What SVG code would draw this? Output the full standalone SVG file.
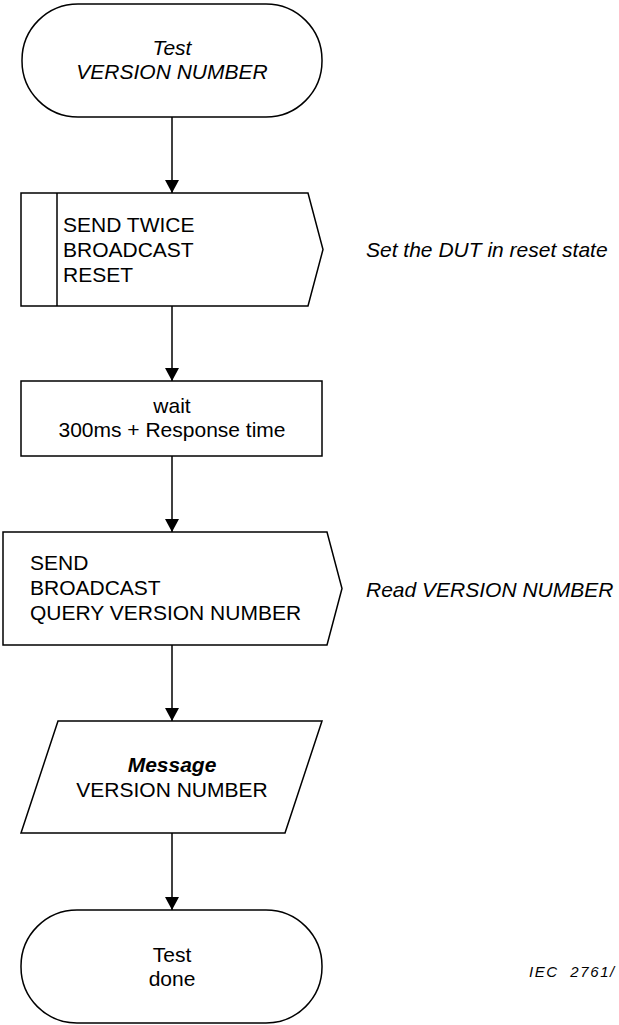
<svg xmlns="http://www.w3.org/2000/svg" width="619" height="1025" viewBox="0 0 619 1025">
<style>
.shape{fill:#fff;stroke:#000;stroke-width:1.5}
.t{font-family:"Liberation Sans",Arial,sans-serif;font-size:21px;fill:#000}
.c{text-anchor:middle}
.i{font-style:italic}
.b{font-weight:bold}
.conn{stroke:#000;stroke-width:1.5;fill:none}
</style>
<defs>
<marker id="arrow" viewBox="0 0 14 15" refX="14" refY="7.5" markerWidth="15" markerHeight="14" markerUnits="userSpaceOnUse" orient="auto">
<path d="M0,0 L14,7.5 L0,15 z" fill="#000"/>
</marker>
</defs>
<rect width="619" height="1025" fill="#fff"/>
<g id="connectors">
<line class="conn" x1="172" y1="117" x2="172" y2="193" marker-end="url(#arrow)"/>
<line class="conn" x1="172" y1="306" x2="172" y2="381" marker-end="url(#arrow)"/>
<line class="conn" x1="172" y1="456" x2="172" y2="532" marker-end="url(#arrow)"/>
<line class="conn" x1="172" y1="645" x2="172" y2="721" marker-end="url(#arrow)"/>
<line class="conn" x1="172" y1="833" x2="172" y2="910" marker-end="url(#arrow)"/>
</g>
<g id="start">
<rect class="shape" x="22" y="4" width="300" height="113" rx="56" ry="56"/>
<text class="t c i" x="172" y="55">Test</text>
<text class="t c i" x="172" y="79">VERSION NUMBER</text>
</g>
<g id="send-reset">
<path class="shape" d="M21,193 L308,193 L323,249.5 L308,306 L21,306 Z"/>
<line class="conn" x1="57" y1="193" x2="57" y2="306"/>
<text class="t" x="63" y="232">SEND TWICE</text>
<text class="t" x="63" y="257">BROADCAST</text>
<text class="t" x="63" y="282">RESET</text>
</g>
<g id="note-reset">
<text class="t i" x="366" y="257">Set the DUT in reset state</text>
</g>
<g id="wait">
<rect class="shape" x="21" y="381" width="301" height="75"/>
<text class="t c" x="172" y="413">wait</text>
<text class="t c" x="172" y="437">300ms + Response time</text>
</g>
<g id="send-query">
<path class="shape" d="M3,532 L327,532 L342,588.5 L327,645 L3,645 Z"/>
<text class="t" x="30" y="570">SEND</text>
<text class="t" x="30" y="595">BROADCAST</text>
<text class="t" x="30" y="620">QUERY VERSION NUMBER</text>
</g>
<g id="note-read">
<text class="t i" x="366" y="597">Read VERSION NUMBER</text>
</g>
<g id="message">
<path class="shape" d="M58,721 L322,721 L285,833 L21,833 Z"/>
<text class="t c i b" x="172" y="772">Message</text>
<text class="t c" x="172" y="797">VERSION NUMBER</text>
</g>
<g id="end">
<rect class="shape" x="21" y="910" width="301" height="113" rx="56" ry="56"/>
<text class="t c" x="172" y="962">Test</text>
<text class="t c" x="172" y="986">done</text>
</g>
<g id="caption">
<text x="529" y="977" font-family="Liberation Sans, Arial, sans-serif" font-size="15" font-style="italic" letter-spacing="1.6" xml:space="preserve">IEC  2761/</text>
</g>
</svg>
